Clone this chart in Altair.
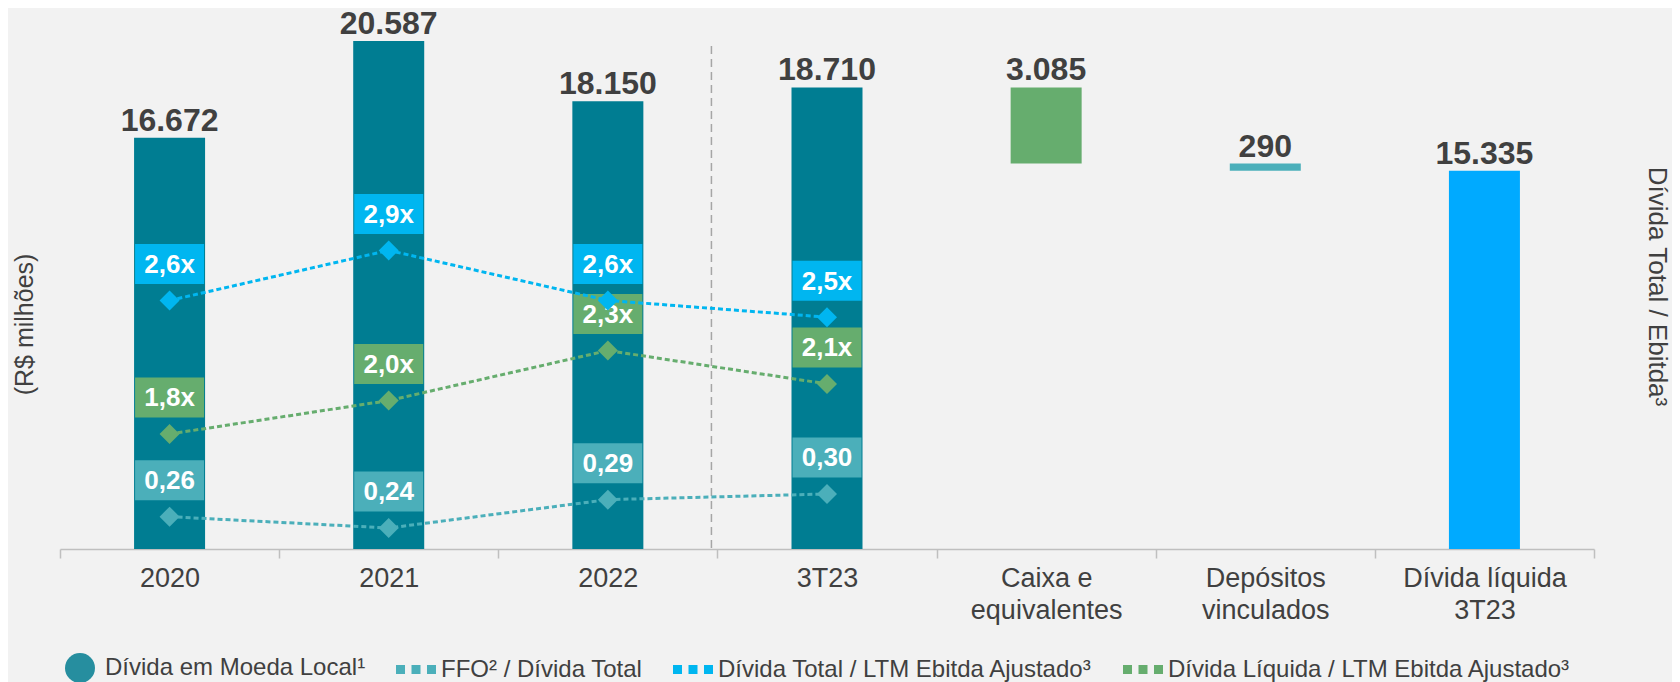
import altair as alt
import pandas as pd

# ---------------- data ----------------
categorias = ["2020", "2021", "2022", "3T23",
              "Caixa e\nequivalentes", "Depósitos\nvinculados", "Dívida líquida\n3T23"]
periodos = ["2020", "2021", "2022", "3T23"]
divida_local = [16672, 20587, 18150, 18710]      # R$ milhões
caixa_equivalentes = 3085
depositos_vinculados = 290
divida_liquida_3t23 = 15335

div_total_ebitda = [2.6, 2.9, 2.6, 2.5]
div_liq_ebitda = [1.8, 2.0, 2.3, 2.1]
ffo_div_total = [0.26, 0.24, 0.29, 0.30]

series_legenda = ["Dívida em Moeda Local¹", "FFO² / Dívida Total",
                  "Dívida Total / LTM Ebitda Ajustado³", "Dívida Líquida / LTM Ebitda Ajustado³"]

# ---------------- styles ----------------
F = "Liberation Sans, Arial, sans-serif"
TXT = "#404040"
C_BAR = "#007D92"
C_CAIXA = "#66AD6E"
C_DEP = "#4BAFBA"
C_LIQ = "#00AAFF"
C_BLUE = "#00B6F0"
C_GREEN = "#66AD6E"
C_FFO = "#4BAFBA"
C_LEG = "#268E9F"

BOX = "M-1,-0.58L1,-0.58L1,0.58L-1,0.58Z"
SQUARES = ("M-1.333,-0.3L-0.733,-0.3L-0.733,0.3L-1.333,0.3Z "
           "M-0.3,-0.3L0.3,-0.3L0.3,0.3L-0.3,0.3Z "
           "M0.733,-0.3L1.333,-0.3L1.333,0.3L0.733,0.3Z")


def fmt_milhar(v):
    return f"{v:,}".replace(",", ".")


# ---------------- tables ----------------
rows = []
for c, v in zip(periodos, divida_local):
    rows.append({"cat": c, "topo": v, "base": 0, "tipo": "divida", "rotulo": fmt_milhar(v)})
t = divida_local[-1]
rows.append({"cat": categorias[4], "topo": t, "base": t - caixa_equivalentes, "tipo": "caixa",
             "rotulo": fmt_milhar(caixa_equivalentes)})
t2 = t - caixa_equivalentes
rows.append({"cat": categorias[5], "topo": t2, "base": t2 - depositos_vinculados, "tipo": "depositos",
             "rotulo": fmt_milhar(depositos_vinculados)})
rows.append({"cat": categorias[6], "topo": divida_liquida_3t23, "base": 0, "tipo": "liquida",
             "rotulo": fmt_milhar(divida_liquida_3t23)})
df_bar = pd.DataFrame(rows)

df_blue = pd.DataFrame({"cat": periodos, "valor": div_total_ebitda,
                        "rotulo": [f"{v:.1f}x".replace(".", ",") for v in div_total_ebitda]})
df_green = pd.DataFrame({"cat": periodos, "valor": div_liq_ebitda,
                         "rotulo": [f"{v:.1f}x".replace(".", ",") for v in div_liq_ebitda]})
df_ffo = pd.DataFrame({"cat": periodos, "valor": ffo_div_total,
                       "rotulo": [f"{v:.2f}".replace(".", ",") for v in ffo_div_total]})

# ---------------- scales / axes ----------------
x_axis = alt.Axis(title=None, labelExpr="split(datum.label, '\\n')", tickBand="extent",
                  labelAngle=0, labelFont=F, labelFontSize=27, labelColor=TXT,
                  labelPadding=7, labelLineHeight=32, tickSize=9, tickColor="#BFBFBF",
                  tickWidth=1.5, domainColor="#BFBFBF", domainWidth=1.5, grid=False)
x_scale = alt.Scale(domain=categorias, paddingInner=0, paddingOuter=0)
X = alt.X("cat:N", scale=x_scale, axis=x_axis, sort=categorias)

y_axis = alt.Axis(title="(R$ milhões)", labels=False, ticks=False, domain=False, grid=False,
                  titleAngle=270, titleX=-36, titleY=304, titleAlign="center",
                  titleBaseline="middle", titleFont=F, titleFontSize=25,
                  titleFontWeight="normal", titleColor=TXT)
y_scale = alt.Scale(domain=[0, 21442], nice=False, zero=True)

r_axis = alt.Axis(orient="right", title="Dívida Total / Ebitda³", labels=False, ticks=False,
                  domain=False, grid=False, titleAngle=90, titleX=62, titleY=266,
                  titleAlign="center", titleBaseline="middle", titleFont=F,
                  titleFontSize=26, titleFontWeight="normal", titleColor=TXT)
ratio_scale = alt.Scale(domain=[1.1108, 4.2804], nice=False, zero=False)
ffo_scale = alt.Scale(domain=[0.20296, 1.136], nice=False, zero=False)

# ---------------- layers ----------------
bars = alt.Chart(df_bar).mark_bar(width=71).encode(
    x=X,
    y=alt.Y("topo:Q", scale=y_scale, axis=y_axis),
    y2="base:Q",
    color=alt.Color("tipo:N", scale=alt.Scale(domain=["divida", "caixa", "depositos", "liquida"],
                                              range=[C_BAR, C_CAIXA, C_DEP, C_LIQ]), legend=None),
)
bar_text = alt.Chart(df_bar).mark_text(baseline="alphabetic", dy=-7, fontSize=32,
                                       fontWeight="bold", color=TXT, font=F).encode(
    x=X, y=alt.Y("topo:Q", scale=y_scale, axis=y_axis), text="rotulo:N")
bar_group = alt.layer(bars, bar_text)


def serie(df, cor, scale, axis):
    base = alt.Chart(df).encode(x=X, y=alt.Y("valor:Q", scale=scale, axis=axis))
    line = base.mark_line(color=cor, strokeDash=[5, 3], strokeWidth=3)
    pts = base.mark_point(shape="diamond", filled=True, size=400, color=cor, opacity=1)
    box = base.mark_point(shape=BOX, filled=True, size=4761, color=cor, opacity=1, yOffset=-36.5)
    txt = base.mark_text(yOffset=-36.5, dy=1, baseline="middle", fontSize=26, fontWeight="bold",
                         color="white", font=F).encode(text="rotulo:N")
    return [line, pts, box, txt]


ratio_group = alt.layer(*serie(df_green, C_GREEN, ratio_scale, r_axis),
                        *serie(df_blue, C_BLUE, ratio_scale, r_axis))
ffo_group = alt.layer(*serie(df_ffo, C_FFO, ffo_scale, None))

sep = alt.Chart(pd.DataFrame({"cat": ["3T23"]})).mark_rule(
    color="#A6A6A6", strokeDash=[8, 5], strokeWidth=1.5, xOffset=-6).encode(
    x=alt.X("cat:N", scale=x_scale, axis=x_axis, bandPosition=0, sort=categorias),
    y=alt.value(26), y2=alt.value(529))

leg = alt.Legend(title=None, orient="none", legendX=5, legendY=633, direction="horizontal",
                 symbolSize=900, labelFont=F, labelFontSize=24, labelColor=TXT, labelOffset=10,
                 columnPadding=30, symbolStrokeWidth=0, labelLimit=800, padding=0)
legend_layer = alt.Chart(pd.DataFrame({"serie": series_legenda})).mark_point(
    filled=True, opacity=1).encode(
    x=alt.value(-500), y=alt.value(-500),
    color=alt.Color("serie:N", scale=alt.Scale(domain=series_legenda,
                                               range=[C_LEG, C_FFO, C_BLUE, C_GREEN]), legend=leg),
    shape=alt.Shape("serie:N", scale=alt.Scale(domain=series_legenda,
                                               range=["circle", SQUARES, SQUARES, SQUARES]), legend=leg),
)

chart = alt.layer(bar_group, sep, ffo_group, ratio_group, legend_layer).resolve_scale(
    y="independent", color="independent", shape="independent"
).properties(
    width=1534, height=529,
    autosize=alt.AutoSizeParams(type="none"),
    padding={"left": 52, "top": 12, "right": 78, "bottom": 133},
    background="#F2F2F2",
).configure_view(stroke=None)

chart.save("out.html", embed_options={"renderer": "svg", "actions": False})
